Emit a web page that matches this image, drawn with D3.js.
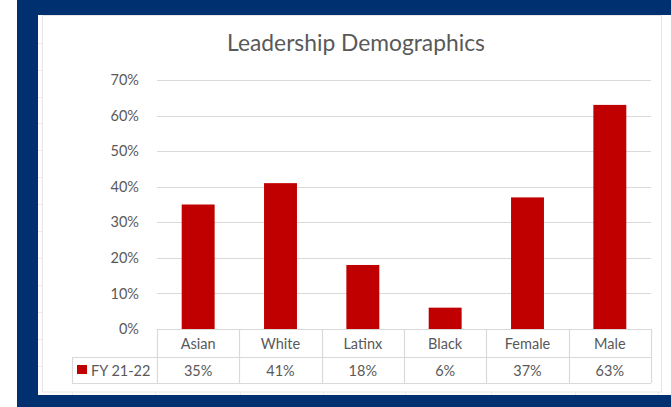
<!DOCTYPE html>
<html>
<head>
<meta charset="utf-8">
<script src="https://cdn.jsdelivr.net/npm/d3@7"></script>
<style>
  body { margin: 0; background: #fff; }
  text { font-family: Lato, "Open Sans", sans-serif; fill: #595959; }
</style>
</head>
<body>
<svg id="chart"></svg>
<script>
//data
var categories = ['Asian', 'White', 'Latinx', 'Black', 'Female', 'Male'];
var values = [0.35, 0.41, 0.18, 0.06, 0.37, 0.63];
var seriesName = 'FY 21-22';
var yTicks = [0, 0.1, 0.2, 0.3, 0.4, 0.5, 0.6, 0.7];

function demoChart() {
    var svg = d3.select('#chart')
        .attr('width', 671)
        .attr('height', 407);

    //navy frame round the sheet
    var navy = '#003070';
    svg.append('rect').attr('x', 17).attr('y', 0).attr('width', 654).attr('height', 15).attr('fill', navy);
    svg.append('rect').attr('x', 17).attr('y', 0).attr('width', 21).attr('height', 407).attr('fill', navy);
    svg.append('rect').attr('x', 17).attr('y', 395).attr('width', 654).attr('height', 12).attr('fill', navy);

    //faint sheet gridlines peeking out
    var faint = svg.append('g').attr('stroke', '#ececec').attr('stroke-width', 1);
    [43, 70, 97, 123, 150, 177, 204, 231, 258, 285, 312, 339, 366].forEach(function(y) {
        faint.append('line').attr('x1', 38).attr('x2', 42).attr('y1', y + 0.5).attr('y2', y + 0.5);
    });
    [72, 155, 240, 323, 405, 491, 575, 658].forEach(function(x) {
        faint.append('line').attr('x1', x + 0.5).attr('x2', x + 0.5).attr('y1', 392).attr('y2', 395);
    });
    //chart object border
    svg.append('rect')
        .attr('x', 42.5).attr('y', 15.5).attr('width', 619).attr('height', 376.5)
        .attr('fill', 'none').attr('stroke', '#e6e6e6');

    //plot extent
    var left = 157, right = 651, top = 80, base = 329;

    var x = d3.scaleBand().domain(categories).range([left, right]).paddingInner(0.6).paddingOuter(0.3);
    var col = d3.scaleBand().domain(categories).range([left, right]);
    var y = d3.scaleLinear().domain([0, 0.7]).range([base, top]);

    //title
    svg.append('text')
        .attr('x', 356).attr('y', 51)
        .attr('text-anchor', 'middle')
        .style('font-size', '22.8px')
        .text('Leadership Demographics');

    //gridlines
    svg.append('g').selectAll('line').data(yTicks.slice(1)).enter().append('line')
        .attr('x1', left).attr('x2', right)
        .attr('y1', d => Math.round(y(d)) + 0.5).attr('y2', d => Math.round(y(d)) + 0.5)
        .attr('stroke', '#d9d9d9').attr('stroke-width', 1.2);

    //y labels
    svg.append('g').selectAll('text').data(yTicks).enter().append('text')
        .attr('x', 139).attr('y', d => y(d))
        .attr('dy', '0.35em')
        .attr('text-anchor', 'end')
        .style('font-size', '14.5px')
        .text(d => d3.format('.0%')(d));

    //bars
    svg.append('g').selectAll('rect').data(values).enter().append('rect')
        .attr('x', (d, i) => x(categories[i]))
        .attr('width', x.bandwidth())
        .attr('y', d => y(d))
        .attr('height', d => base - y(d))
        .attr('fill', '#C00000');

    //data table
    var row1 = base, row2 = 357, row3 = 383, legendLeft = 72;
    var grid = svg.append('g').attr('stroke', '#d9d9d9').attr('stroke-width', 1.2).attr('fill', 'none');
    grid.append('line').attr('x1', left).attr('x2', right).attr('y1', row1 + 0.5).attr('y2', row1 + 0.5);
    grid.append('line').attr('x1', legendLeft).attr('x2', right).attr('y1', row2 + 0.5).attr('y2', row2 + 0.5);
    grid.append('line').attr('x1', legendLeft).attr('x2', right).attr('y1', row3 + 0.5).attr('y2', row3 + 0.5);
    grid.append('line').attr('x1', legendLeft + 0.5).attr('x2', legendLeft + 0.5).attr('y1', row2).attr('y2', row3);
    grid.selectAll('.vline').data(categories.concat(['end'])).enter().append('line')
        .attr('class', 'vline')
        .attr('x1', (d, i) => Math.round(left + i * col.bandwidth()) + 0.5)
        .attr('x2', (d, i) => Math.round(left + i * col.bandwidth()) + 0.5)
        .attr('y1', row1).attr('y2', row3);

    svg.append('g').selectAll('text').data(categories).enter().append('text')
        .attr('x', d => col(d) + col.bandwidth() / 2)
        .attr('y', (row1 + row2) / 2 + 1)
        .attr('dy', '0.35em')
        .attr('text-anchor', 'middle')
        .style('font-size', '14.5px')
        .text(d => d);

    svg.append('g').selectAll('text').data(values).enter().append('text')
        .attr('x', (d, i) => col(categories[i]) + col.bandwidth() / 2)
        .attr('y', (row2 + row3) / 2 + 1)
        .attr('dy', '0.35em')
        .attr('text-anchor', 'middle')
        .style('font-size', '14.5px')
        .text(d => d3.format('.0%')(d));

    //legend key
    svg.append('rect')
        .attr('x', 77).attr('y', 365).attr('width', 10).attr('height', 9)
        .attr('fill', '#C00000');
    svg.append('text')
        .attr('x', 91).attr('y', (row2 + row3) / 2 + 1)
        .attr('dy', '0.35em')
        .style('font-size', '14.5px')
        .text(seriesName);
}

demoChart();
</script>
</body>
</html>
